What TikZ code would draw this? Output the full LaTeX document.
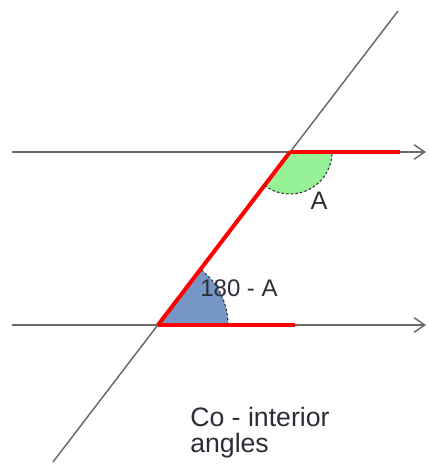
\documentclass[tikz,border=0pt]{standalone}
\usepackage{fontspec}
\setmainfont{Liberation Sans}
\usepackage{tikz}
\usetikzlibrary{arrows.meta,positioning}
\definecolor{softgreen}{RGB}{150,242,150}
\definecolor{softsteel}{RGB}{118,150,200}
\definecolor{linegray}{RGB}{105,105,105}
\definecolor{textgray}{RGB}{45,45,55}

\begin{document}
\begin{tikzpicture}[x=0.75pt, y=0.75pt, >={Straight Barb[length=8pt,width=11pt]},
    thinline/.style={draw=linegray, line width=1.1pt},
    redline/.style={draw=red, line width=3pt},
    anglearc/.style={draw=black!80, line width=0.8pt, dash pattern=on 2pt off 1.5pt},
    label/.style={text=textgray, font=\fontsize{18pt}{18pt}\selectfont, inner sep=0pt}]
      \useasboundingbox (0,0) rectangle (428,467);
      % points on the lines
      \coordinate (P) at (290,315);
      \coordinate (Q) at (158,142);
      \coordinate (t1) at (53,5);
      \coordinate (t2) at (398,456);
      \coordinate (u1) at (12,315);
      \coordinate (u2) at (426,315);
      \coordinate (l1) at (12,142);
      \coordinate (l2) at (426,142);
      \coordinate (ur) at (400,315);
      \coordinate (lr) at (295,142);
      % angle sectors
      \fill[softgreen] (P) -- ++(232.66:42) arc[start angle=232.66, end angle=360, radius=42] -- cycle;
      \fill[softsteel] (Q) -- ++(0:70) arc[start angle=0, end angle=52.66, radius=70] -- cycle;
      % parallel lines and transversal
      \draw[thinline, ->] (u1) -- (u2);
      \draw[thinline, ->] (l1) -- (l2);
      \draw[thinline] (t1) -- (t2);
      % the Z shape
      \draw[redline] (P) -- (ur);
      \draw[redline] (Q) -- (P);
      \draw[redline] (Q) -- (lr);
      \draw[anglearc] ([shift={(232.66:42)}]P) arc[start angle=232.66, end angle=360, radius=42];
      \draw[anglearc] ([shift={(0:70)}]Q) arc[start angle=0, end angle=52.66, radius=70];
      \node[label, font=\fontsize{19pt}{19pt}\selectfont] (angA) at (319,266) {A};
      \node[label] (angB) at (239,179) {180 - A};
      \node[label, anchor=west, align=left, font=\fontsize{20pt}{20pt}\selectfont] (caption) at (190,34.5) {Co - interior\\angles};
    \end{tikzpicture}
\end{document}
